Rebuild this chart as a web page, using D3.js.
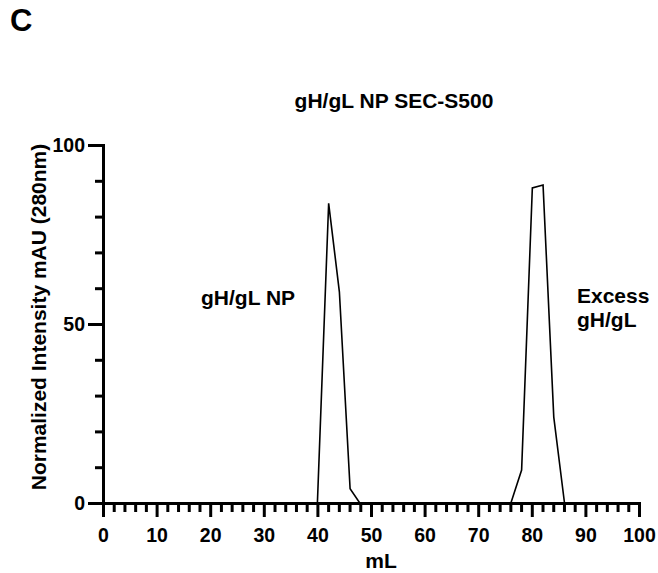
<!DOCTYPE html>
<html>
<head>
<meta charset="utf-8">
<script src="https://cdn.jsdelivr.net/npm/d3@7"></script>
<style>
  body { margin: 0; background: #fff; }
  svg text { font-family: 'Liberation Sans', Arial, sans-serif; font-weight: bold; fill: #000; }
  .axis path, .axis line { stroke: #000; stroke-width: 3; }
</style>
</head>
<body>
<script>
// elution volume (mL) and normalized absorbance at 280 nm
const volume = [40, 42.1, 44.1, 46.1, 47.9, 76.1, 78.1, 80.1, 82.1, 84.1, 86.1]
const intensity = [0, 83.7, 59, 4, 0, 0, 9.2, 88, 88.8, 24, 0]

const xMajorTicks = [0, 10, 20, 30, 40, 50, 60, 70, 80, 90, 100]
const xMinorTicks = d3.range(0, 101, 2).filter(v => v % 10 !== 0)
const yMajorTicks = [0, 50, 100]
const yMinorTicks = [10, 20, 30, 40, 60, 70, 80, 90]

const width = 658
const height = 573

const svg = d3.select('body').append('svg')
  .attr('width', width)
  .attr('height', height)

const xScale = d3.scaleLinear()
  .domain([0, 100])
  .range([103, 639])

const yScale = d3.scaleLinear()
  .domain([0, 100])
  .range([503, 145])

const line = d3.line()
  .x((d, i) => xScale(volume[i]))
  .y(d => yScale(d))

svg.append('path')
  .datum(intensity)
  .attr('d', line)
  .style('fill', 'none')
  .style('stroke', '#000')
  .style('stroke-width', 1.6)
  .style('stroke-linejoin', 'miter')

// minor ticks first, majors on top
svg.append('g')
  .attr('class', 'axis')
  .attr('transform', `translate(0, ${yScale(0)})`)
  .call(d3.axisBottom(xScale).tickValues(xMinorTicks).tickSize(9).tickSizeOuter(0).tickFormat(''))

svg.append('g')
  .attr('class', 'axis')
  .attr('transform', `translate(${xScale(0)}, 0)`)
  .call(d3.axisLeft(yScale).tickValues(yMinorTicks).tickSize(8).tickSizeOuter(0).tickFormat(''))

const xAxis = svg.append('g')
  .attr('class', 'axis')
  .attr('transform', `translate(0, ${yScale(0)})`)
  .call(d3.axisBottom(xScale).tickValues(xMajorTicks).tickSize(14).tickSizeOuter(0).tickPadding(11.5))

const yAxis = svg.append('g')
  .attr('class', 'axis')
  .attr('transform', `translate(${xScale(0)}, 0)`)
  .call(d3.axisLeft(yScale).tickValues(yMajorTicks).tickSize(15).tickSizeOuter(0).tickPadding(3))

svg.selectAll('.axis text')
  .style('font-size', '19.5px')
  .style('font-family', "'Liberation Sans', Arial, sans-serif")
  .style('font-weight', 'bold')
  .attr('fill', '#000')

svg.selectAll('.axis .domain')
  .style('stroke-linecap', 'square')

// titles and labels
svg.append('text')
  .attr('x', 10)
  .attr('y', 31)
  .style('font-size', '31px')
  .text('C')

svg.append('text')
  .attr('x', 394)
  .attr('y', 108)
  .attr('text-anchor', 'middle')
  .style('font-size', '21px')
  .text('gH/gL NP SEC-S500')

svg.append('text')
  .attr('x', 381)
  .attr('y', 568)
  .attr('text-anchor', 'middle')
  .style('font-size', '21px')
  .text('mL')

svg.append('text')
  .attr('transform', `translate(46, 317) rotate(-90)`)
  .attr('text-anchor', 'middle')
  .style('font-size', '21px')
  .text('Normalized Intensity mAU (280nm)')

svg.append('text')
  .attr('x', 201)
  .attr('y', 305)
  .style('font-size', '21px')
  .text('gH/gL NP')

svg.append('text')
  .attr('x', 577)
  .attr('y', 303)
  .style('font-size', '21px')
  .text('Excess')

svg.append('text')
  .attr('x', 577)
  .attr('y', 327)
  .style('font-size', '21px')
  .text('gH/gL')
</script>
</body>
</html>
